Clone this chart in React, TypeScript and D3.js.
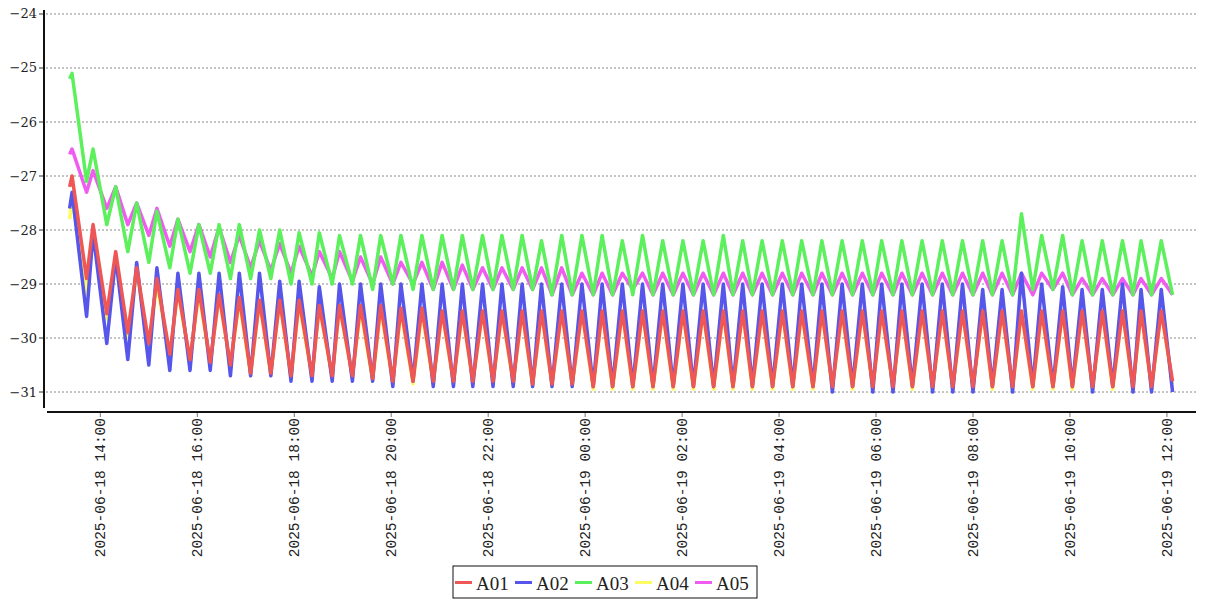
import React from "react";
import * as d3 from "d3";

// ---- time stamps of the turning points ----
const startTime = "2025-06-18 13:22";
const peakTimes = [
  "2025-06-18 13:25", "2025-06-18 13:51", "2025-06-18 14:19", "2025-06-18 14:45", "2025-06-18 15:10",
  "2025-06-18 15:36", "2025-06-18 16:02", "2025-06-18 16:27", "2025-06-18 16:52", "2025-06-18 17:17",
  "2025-06-18 17:42", "2025-06-18 18:06", "2025-06-18 18:31", "2025-06-18 18:56", "2025-06-18 19:22",
  "2025-06-18 19:47", "2025-06-18 20:12", "2025-06-18 20:38", "2025-06-18 21:03", "2025-06-18 21:28",
  "2025-06-18 21:53", "2025-06-18 22:17", "2025-06-18 22:42", "2025-06-18 23:06", "2025-06-18 23:31",
  "2025-06-18 23:56", "2025-06-19 00:21", "2025-06-19 00:46", "2025-06-19 01:11", "2025-06-19 01:36",
  "2025-06-19 02:01", "2025-06-19 02:26", "2025-06-19 02:51", "2025-06-19 03:15", "2025-06-19 03:39",
  "2025-06-19 04:04", "2025-06-19 04:28", "2025-06-19 04:53", "2025-06-19 05:18", "2025-06-19 05:43",
  "2025-06-19 06:07", "2025-06-19 06:32", "2025-06-19 06:57", "2025-06-19 07:22", "2025-06-19 07:47",
  "2025-06-19 08:12", "2025-06-19 08:36", "2025-06-19 09:00", "2025-06-19 09:25", "2025-06-19 09:51",
  "2025-06-19 10:15", "2025-06-19 10:40", "2025-06-19 11:05", "2025-06-19 11:28", "2025-06-19 11:53",
];
const troughTimes = [
  "2025-06-18 13:43", "2025-06-18 14:08", "2025-06-18 14:34", "2025-06-18 15:00", "2025-06-18 15:26",
  "2025-06-18 15:51", "2025-06-18 16:16", "2025-06-18 16:41", "2025-06-18 17:06", "2025-06-18 17:31",
  "2025-06-18 17:56", "2025-06-18 18:22", "2025-06-18 18:47", "2025-06-18 19:12", "2025-06-18 19:37",
  "2025-06-18 20:02", "2025-06-18 20:27", "2025-06-18 20:52", "2025-06-18 21:17", "2025-06-18 21:41",
  "2025-06-18 22:06", "2025-06-18 22:31", "2025-06-18 22:55", "2025-06-18 23:19", "2025-06-18 23:44",
  "2025-06-19 00:10", "2025-06-19 00:34", "2025-06-19 00:59", "2025-06-19 01:24", "2025-06-19 01:49",
  "2025-06-19 02:14", "2025-06-19 02:39", "2025-06-19 03:03", "2025-06-19 03:27", "2025-06-19 03:52",
  "2025-06-19 04:17", "2025-06-19 04:42", "2025-06-19 05:06", "2025-06-19 05:31", "2025-06-19 05:56",
  "2025-06-19 06:21", "2025-06-19 06:45", "2025-06-19 07:10", "2025-06-19 07:35", "2025-06-19 08:00",
  "2025-06-19 08:24", "2025-06-19 08:49", "2025-06-19 09:14", "2025-06-19 09:39", "2025-06-19 10:03",
  "2025-06-19 10:28", "2025-06-19 10:53", "2025-06-19 11:18", "2025-06-19 11:41", "2025-06-19 12:07",
];

// ---- series values ----
const A01_start = -27.2;
const A01_peaks = [
  -27.0, -27.9, -28.4, -28.7, -28.9, -29.1, -29.1, -29.2, -29.25, -29.3,
  -29.3, -29.3, -29.4, -29.4, -29.4, -29.4, -29.45, -29.45, -29.5, -29.5,
  -29.5, -29.5, -29.5, -29.5, -29.5, -29.5, -29.5, -29.5, -29.5, -29.5,
  -29.5, -29.5, -29.5, -29.5, -29.5, -29.5, -29.5, -29.5, -29.5, -29.5,
  -29.5, -29.5, -29.5, -29.5, -29.5, -29.5, -29.5, -29.5, -29.5, -29.5,
  -29.5, -29.5, -29.5, -29.5, -29.5,
];
const A01_troughs = [
  -28.9, -29.55, -29.9, -30.1, -30.3, -30.4, -30.45, -30.5, -30.65, -30.65,
  -30.7, -30.7, -30.7, -30.7, -30.75, -30.8, -30.8, -30.8, -30.8, -30.8,
  -30.8, -30.8, -30.85, -30.85, -30.85, -30.9, -30.9, -30.9, -30.9, -30.9,
  -30.9, -30.9, -30.9, -30.9, -30.9, -30.9, -30.9, -30.9, -30.9, -30.9,
  -30.9, -30.9, -30.9, -30.9, -30.9, -30.9, -30.9, -30.9, -30.9, -30.9,
  -30.9, -30.9, -30.9, -30.9, -30.8,
];
const A02_start = -27.6;
const A02_peaks = [
  -27.3, -28.05, -28.5, -28.6, -28.7, -28.8, -28.8, -28.8, -28.8, -28.8,
  -28.95, -28.95, -29.05, -29.0, -29.0, -29.0, -29.0, -29.0, -29.0, -29.0,
  -29.0, -29.0, -29.0, -29.0, -29.0, -29.0, -29.0, -29.0, -29.0, -29.0,
  -29.0, -29.0, -29.0, -29.0, -29.0, -29.0, -29.0, -29.0, -29.0, -29.0,
  -29.0, -29.0, -29.0, -29.0, -29.0, -29.1, -29.1, -28.8, -29.0, -29.05,
  -29.1, -29.1, -29.0, -29.1, -29.1,
];
const A02_troughs = [
  -29.6, -30.1, -30.4, -30.5, -30.6, -30.6, -30.6, -30.7, -30.7, -30.7,
  -30.8, -30.8, -30.8, -30.8, -30.8, -30.9, -30.8, -30.9, -30.9, -30.9,
  -30.9, -30.9, -30.9, -30.9, -30.9, -30.9, -30.9, -30.9, -30.9, -30.9,
  -30.9, -30.9, -30.9, -30.9, -30.9, -30.9, -30.9, -31.0, -30.9, -31.0,
  -31.0, -30.9, -31.0, -31.0, -31.0, -30.9, -31.0, -30.9, -30.9, -30.9,
  -31.0, -30.9, -31.0, -31.0, -31.0,
];
const A03_start = -25.2;
const A03_peaks = [
  -25.1, -26.5, -27.2, -27.5, -27.65, -27.8, -27.9, -27.9, -27.9, -28.0,
  -28.0, -28.05, -28.05, -28.1, -28.1, -28.1, -28.1, -28.1, -28.1, -28.1,
  -28.1, -28.1, -28.1, -28.2, -28.1, -28.1, -28.1, -28.2, -28.1, -28.2,
  -28.2, -28.2, -28.1, -28.2, -28.2, -28.2, -28.2, -28.2, -28.2, -28.2,
  -28.2, -28.2, -28.2, -28.2, -28.2, -28.2, -28.2, -27.7, -28.1, -28.1,
  -28.2, -28.2, -28.2, -28.2, -28.2,
];
const A03_troughs = [
  -27.1, -27.9, -28.4, -28.6, -28.7, -28.8, -28.8, -28.9, -28.9, -28.9,
  -29.0, -29.0, -29.0, -29.0, -29.1, -29.0, -29.1, -29.1, -29.1, -29.1,
  -29.1, -29.1, -29.1, -29.2, -29.2, -29.2, -29.2, -29.2, -29.2, -29.2,
  -29.2, -29.2, -29.2, -29.2, -29.2, -29.2, -29.2, -29.2, -29.2, -29.2,
  -29.2, -29.2, -29.2, -29.2, -29.2, -29.2, -29.2, -29.1, -29.1, -29.2,
  -29.2, -29.2, -29.2, -29.2, -29.2,
];
const A04_start = -27.8;
const A04_peaks = [
  -27.4, -28.0, -28.5, -28.75, -29.0, -29.1, -29.15, -29.2, -29.3, -29.3,
  -29.3, -29.35, -29.4, -29.4, -29.45, -29.45, -29.5, -29.5, -29.5, -29.5,
  -29.5, -29.5, -29.5, -29.5, -29.5, -29.5, -29.5, -29.5, -29.5, -29.5,
  -29.5, -29.5, -29.5, -29.5, -29.5, -29.5, -29.5, -29.5, -29.5, -29.5,
  -29.5, -29.5, -29.5, -29.5, -29.5, -29.5, -29.5, -29.5, -29.5, -29.5,
  -29.5, -29.5, -29.5, -29.5, -29.5,
];
const A04_troughs = [
  -29.2, -29.65, -30.0, -30.2, -30.35, -30.45, -30.5, -30.55, -30.7, -30.7,
  -30.75, -30.75, -30.75, -30.75, -30.8, -30.85, -30.85, -30.85, -30.85, -30.85,
  -30.85, -30.85, -30.9, -30.9, -30.9, -30.95, -30.95, -30.95, -30.95, -30.95,
  -30.95, -30.95, -30.95, -30.95, -30.95, -30.95, -30.95, -30.95, -30.95, -30.95,
  -30.95, -30.95, -30.95, -30.95, -30.95, -30.95, -30.95, -30.95, -30.95, -30.95,
  -30.95, -30.95, -30.95, -30.95, -30.85,
];
const A05_start = -26.6;
const A05_peaks = [
  -26.5, -26.9, -27.2, -27.5, -27.6, -27.8, -27.9, -27.95, -28.1, -28.2,
  -28.25, -28.3, -28.4, -28.4, -28.5, -28.5, -28.6, -28.6, -28.6, -28.65,
  -28.7, -28.7, -28.7, -28.7, -28.7, -28.8, -28.8, -28.8, -28.8, -28.8,
  -28.8, -28.8, -28.8, -28.8, -28.8, -28.8, -28.8, -28.8, -28.8, -28.8,
  -28.8, -28.8, -28.8, -28.8, -28.8, -28.8, -28.8, -28.8, -28.8, -28.8,
  -28.9, -28.9, -28.9, -28.9, -28.9,
];
const A05_troughs = [
  -27.3, -27.6, -27.9, -28.1, -28.3, -28.4, -28.5, -28.6, -28.7, -28.75,
  -28.8, -28.85, -28.9, -28.95, -29.0, -29.0, -29.0, -29.1, -29.1, -29.1,
  -29.1, -29.1, -29.1, -29.2, -29.2, -29.2, -29.2, -29.1, -29.2, -29.2,
  -29.2, -29.2, -29.2, -29.2, -29.2, -29.2, -29.2, -29.2, -29.2, -29.2,
  -29.2, -29.2, -29.2, -29.2, -29.2, -29.2, -29.2, -29.2, -29.1, -29.2,
  -29.2, -29.2, -29.2, -29.2, -29.2,
];

const seriesNames = ["A01", "A02", "A03", "A04", "A05"];
const seriesColors = ["#ef5656", "#5656ea", "#5cf05c", "#fbfb62", "#ef5cef"];
const yTicks = [-31, -30, -29, -28, -27, -26, -25, -24];
const xDomain = ["2025-06-18 12:54", "2025-06-19 12:36"];
const yDomain = [-31.296, -23.926];

const parse = d3.timeParse("%Y-%m-%d %H:%M");

type Pt = { t: Date; v: number };
function build(start: number, peaks: number[], troughs: number[]): Pt[] {
  const pts: Pt[] = [{ t: parse(startTime) as Date, v: start }];
  peaks.forEach((p, i) => {
    pts.push({ t: parse(peakTimes[i]) as Date, v: p });
    pts.push({ t: parse(troughTimes[i]) as Date, v: troughs[i] });
  });
  return pts;
}

const seriesData: Pt[][] = [
  build(A01_start, A01_peaks, A01_troughs),
  build(A02_start, A02_peaks, A02_troughs),
  build(A03_start, A03_peaks, A03_troughs),
  build(A04_start, A04_peaks, A04_troughs),
  build(A05_start, A05_peaks, A05_troughs),
];

export default function App() {
  const W = 1207, H = 600;
  const x = d3
    .scaleTime()
    .domain([parse(xDomain[0]) as Date, parse(xDomain[1]) as Date])
    .range([47, 1196]);
  const y = d3.scaleLinear().domain(yDomain).range([408, 10]);
  const line = d3
    .line<Pt>()
    .x((d) => x(d.t))
    .y((d) => y(d.v));
  const xTicks = x.ticks(d3.timeHour.every(2) as d3.TimeInterval);
  const fmtX = d3.timeFormat("%Y-%m-%d %H:%M");
  const fmtY = d3.format("d");
  const order = [4, 3, 2, 1, 0];

  return (
    <div style={{ position: "fixed", left: 0, top: 0 }}>
      <svg width={W} height={H} style={{ display: "block", background: "#fff" }}>
        {yTicks.map((t) => (
          <g key={t}>
            <line x1={46} x2={1196} y1={y(t)} y2={y(t)} stroke="#8a8a8a" strokeWidth={1} strokeDasharray="2,2" />
            <line x1={39} x2={44} y1={y(t)} y2={y(t)} stroke="#333" strokeWidth={1} />
            <text
              x={37}
              y={y(t)}
              textAnchor="end"
              dominantBaseline="central"
              fontFamily="DejaVu Serif"
              fontSize={13}
              fill="#222"
            >
              {fmtY(t)}
            </text>
          </g>
        ))}
        {order.map((i) => (
          <path
            key={seriesNames[i]}
            d={line(seriesData[i]) || ""}
            fill="none"
            stroke={seriesColors[i]}
            strokeWidth={3.5}
            strokeLinejoin="round"
          />
        ))}
        <line x1={44} x2={44} y1={10} y2={408} stroke="#111" strokeWidth={2} />
        <line x1={47} x2={1196} y1={412} y2={412} stroke="#111" strokeWidth={2} />
        {xTicks.map((t) => (
          <g key={+t}>
            <line x1={x(t)} x2={x(t)} y1={413} y2={417} stroke="#777" strokeWidth={1} />
            <text
              transform={`translate(${x(t) + 5},418) rotate(-90)`}
              textAnchor="end"
              fontFamily="Liberation Mono"
              fontSize={14.5}
              fill="#222"
            >
              {fmtX(t)}
            </text>
          </g>
        ))}
        <g>
          <rect x={453} y={566} width={304} height={32} fill="#fff" stroke="#111" strokeWidth={1} />
          {seriesNames.map((n, i) => (
            <g key={n} transform={`translate(${455 + i * 60},0)`}>
              <line x1={0} x2={17} y1={582.5} y2={582.5} stroke={seriesColors[i]} strokeWidth={3} />
              <text x={21} y={589.5} fontFamily="Liberation Serif" fontSize={19} fill="#222">
                {n}
              </text>
            </g>
          ))}
        </g>
      </svg>
    </div>
  );
}
